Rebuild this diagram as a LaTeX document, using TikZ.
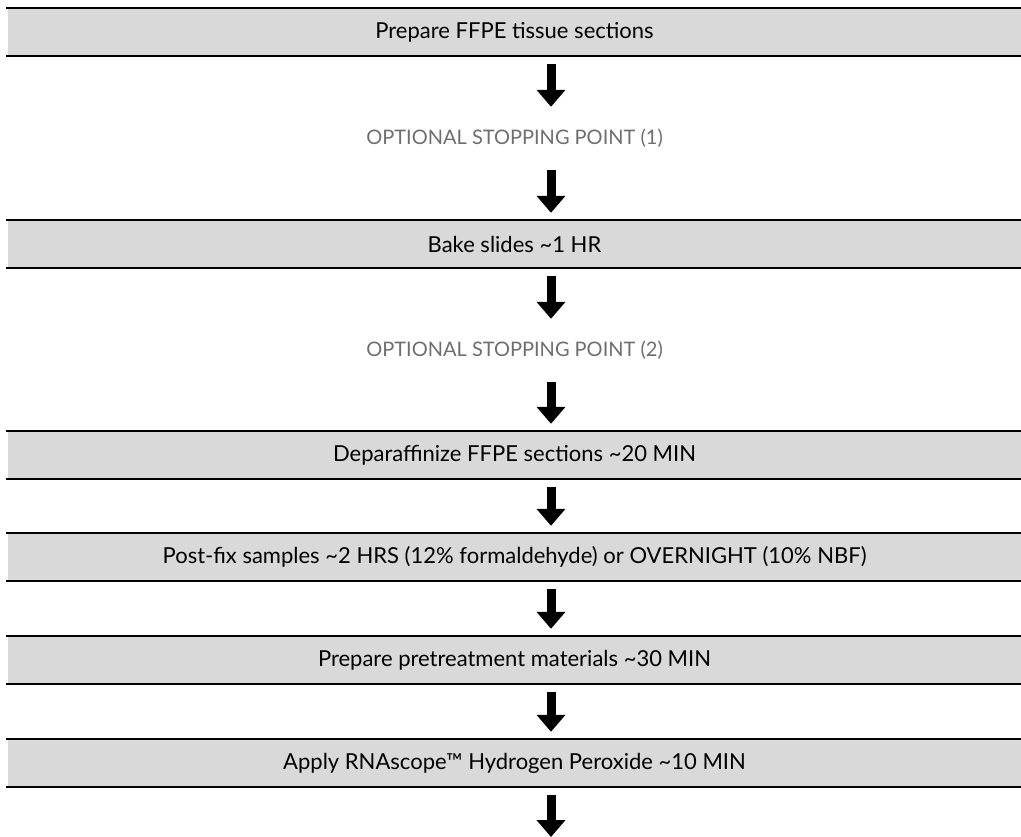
\documentclass[tikz,border=0pt]{standalone}
\usepackage{fontspec}
\setmainfont{Lato}
\usetikzlibrary{arrows.meta}
\definecolor{boxgray}{HTML}{D9D9D9}
\definecolor{optgray}{HTML}{6E6E6E}
\tikzset{
  stepbox/.style={fill=boxgray, minimum width=1013pt, minimum height=48pt,
    inner sep=0pt, font=\fontsize{22}{26}\selectfont},
  optbox/.style={minimum width=1013pt, minimum height=48pt, inner sep=0pt,
    text=optgray, font=\fontsize{20}{24}\selectfont},
  flow/.style={line width=9pt, -{Triangle[width=28pt,length=17pt]},
    shorten <=8pt, shorten >=7pt}
}

\begin{document}
\begin{tikzpicture}[x=1pt,y=1pt]
      \useasboundingbox (0,0) rectangle (1021,-837);

      \node[stepbox] (s1) at (514.5,-32)  {Prepare FFPE tissue sections};
      \node[optbox]  (s2) at (514.5,-138) {OPTIONAL STOPPING POINT (1)};
      \node[stepbox] (s3) at (514.5,-244) {Bake slides \textasciitilde1 HR};
      \node[optbox]  (s4) at (514.5,-350) {OPTIONAL STOPPING POINT (2)};
      \node[stepbox] (s5) at (514.5,-455) {Deparaffinize FFPE sections \textasciitilde20 MIN};
      \node[stepbox] (s6) at (514.5,-557) {Post-fix samples \textasciitilde2 HRS (12\% formaldehyde) or OVERNIGHT (10\% NBF)};
      \node[stepbox] (s7) at (514.5,-660) {Prepare pretreatment materials \textasciitilde30 MIN};
      \node[stepbox] (s8) at (514.5,-763) {Apply RNAscope™ Hydrogen Peroxide \textasciitilde10 MIN};
      \coordinate (end) at (551,-837);

      % black rules above and below each step
      \foreach \s in {s1,s3,s5,s6,s7,s8}
        \draw[line width=2.5pt] ([xshift=-1.5pt]\s.north west) -- (\s.north east)
                                ([xshift=-1.5pt]\s.south west) -- (\s.south east);

      \foreach \a/\b in {s1/s2,s2/s3,s3/s4,s4/s5,s5/s6,s6/s7,s7/s8}
        \draw[flow] ([xshift=36.5pt]\a.south) -- ([xshift=36.5pt]\b.north);
      \draw[flow, shorten >=0pt] ([xshift=36.5pt]s8.south) -- (end);
    \end{tikzpicture}
\end{document}
